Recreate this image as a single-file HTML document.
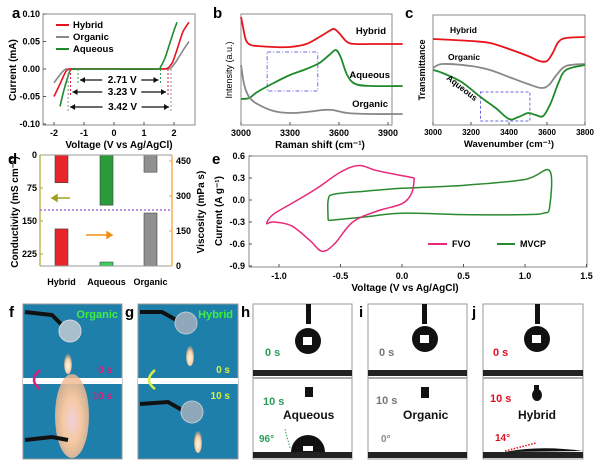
<!DOCTYPE html>
<html><head><meta charset="utf-8"><style>
html,body{margin:0;padding:0;background:#fff;}
svg{display:block;font-family:"Liberation Sans",Arial,sans-serif;font-weight:bold;}
</style></head><body>
<svg id="fig" width="600" height="470" viewBox="0 0 600 470" xmlns="http://www.w3.org/2000/svg">
<defs>
<radialGradient id="flame" cx="50%" cy="60%" r="60%"><stop offset="0" stop-color="#fff8e8"/><stop offset="0.6" stop-color="#f6d0a8"/><stop offset="1" stop-color="#e8a070" stop-opacity="0.3"/></radialGradient>
<radialGradient id="bigflame" cx="50%" cy="55%" r="55%"><stop offset="0" stop-color="#f0d0dc"/><stop offset="0.5" stop-color="#f5c8a0"/><stop offset="1" stop-color="#f0b890" stop-opacity="0.8"/></radialGradient>
</defs>
<text x="12" y="18" font-size="15">a</text>
<text x="213" y="18" font-size="15">b</text>
<text x="405" y="18" font-size="15">c</text>
<text x="8" y="164" font-size="15">d</text>
<text x="212" y="164" font-size="15">e</text>
<text x="9" y="317" font-size="15">f</text>
<text x="125" y="317" font-size="15">g</text>
<text x="241" y="317" font-size="15">h</text>
<text x="359" y="317" font-size="15">i</text>
<text x="472" y="317" font-size="15">j</text>

<g>
<rect x="23" y="304" width="99" height="155" fill="#1f7fab" stroke="#999"/>
<rect x="23" y="378" width="99" height="6" fill="#fff"/>
<path d="M25,312 L52,315 L66,329" stroke="#111" stroke-width="4" fill="none"/>
<circle cx="70" cy="331" r="11" fill="#a9bfcc" stroke="#cfd8de"/>
<ellipse cx="68" cy="364" rx="4" ry="10" fill="url(#flame)"/>
<ellipse cx="72" cy="416" rx="17" ry="42" fill="url(#bigflame)"/>
<path d="M25,440 L52,437 L68,440" stroke="#111" stroke-width="4" fill="none"/>
<text x="118" y="318" font-size="11" fill="#3ef03e" text-anchor="end">Organic</text>
<text x="112" y="373" font-size="10" fill="#d8207a" text-anchor="end">0 s</text>
<text x="112" y="399" font-size="10" fill="#d8207a" text-anchor="end">10 s</text>
<path d="M40,370 Q28,380 40,389" stroke="#d8207a" stroke-width="2.5" fill="none"/>
</g>
<g>
<rect x="138" y="304" width="100" height="155" fill="#1f7fab" stroke="#999"/>
<rect x="138" y="378" width="100" height="6" fill="#fff"/>
<path d="M140,312 L162,312 L178,321" stroke="#111" stroke-width="4" fill="none"/>
<circle cx="186" cy="323" r="11" fill="#8fa9ba" stroke="#b9c8d2"/>
<ellipse cx="190" cy="356" rx="4" ry="10" fill="url(#flame)"/>
<path d="M140,404 L168,402 L182,410" stroke="#111" stroke-width="4" fill="none"/>
<circle cx="192" cy="412" r="11" fill="#8fa9ba" stroke="#b9c8d2"/>
<ellipse cx="198" cy="442" rx="4" ry="11" fill="url(#flame)"/>
<text x="233" y="318" font-size="11" fill="#3ef03e" text-anchor="end">Hybrid</text>
<text x="230" y="373" font-size="10" fill="#d8f040" text-anchor="end">0 s</text>
<text x="230" y="399" font-size="10" fill="#d8f040" text-anchor="end">10 s</text>
<path d="M155,370 Q143,380 155,389" stroke="#d8f040" stroke-width="2.5" fill="none"/>
</g>
<g>
<rect x="253" y="304" width="99" height="155" fill="#fff" stroke="#999"/>
<rect x="253" y="370" width="99" height="6" fill="#222"/>
<rect x="253" y="452" width="99" height="6" fill="#222"/>
<rect x="253" y="377" width="99" height="2" fill="#aaa"/>
<rect x="306" y="304" width="5" height="20" fill="#111"/>
<circle cx="308" cy="341" r="13" fill="#111"/><rect x="303" y="337" width="9" height="8" fill="#fff"/>
<rect x="305" y="387" width="8" height="10" fill="#111"/>
<path d="M291,452 A17,17 0 0 1 325,452 Z" fill="#111"/><rect x="303" y="446" width="10" height="5" fill="#fff"/>
<text x="265" y="356" font-size="11" fill="#2a9d5a">0 s</text>
<text x="263" y="405" font-size="11" fill="#2a9d5a">10 s</text>
<text x="283" y="419" font-size="12" fill="#111">Aqueous</text>
<text x="259" y="442" font-size="10" fill="#2a9d5a">96°</text>
<line x1="285" y1="429" x2="290" y2="448" stroke="#2a9d5a" stroke-dasharray="1.5,1.5"/>
</g>
<g>
<rect x="368" y="304" width="99" height="155" fill="#fff" stroke="#999"/>
<rect x="368" y="370" width="99" height="6" fill="#222"/>
<rect x="368" y="452" width="99" height="6" fill="#222"/>
<rect x="368" y="377" width="99" height="2" fill="#aaa"/>
<rect x="422" y="304" width="5" height="20" fill="#111"/>
<circle cx="425" cy="339" r="13" fill="#111"/><rect x="420" y="335" width="9" height="8" fill="#fff"/>
<rect x="421" y="387" width="8" height="11" fill="#111"/>
<text x="379" y="356" font-size="11" fill="#777">0 s</text>
<text x="376" y="404" font-size="11" fill="#777">10 s</text>
<text x="403" y="419" font-size="12" fill="#111">Organic</text>
<text x="381" y="442" font-size="10" fill="#888">0°</text>
</g>
<g>
<rect x="483" y="304" width="100" height="155" fill="#fff" stroke="#999"/>
<rect x="483" y="370" width="100" height="6" fill="#222"/>
<rect x="483" y="452" width="100" height="6" fill="#222"/>
<rect x="483" y="377" width="100" height="2" fill="#aaa"/>
<rect x="535" y="304" width="5" height="20" fill="#111"/>
<circle cx="537" cy="339" r="13" fill="#111"/><rect x="532" y="335" width="9" height="8" fill="#fff"/>
<ellipse cx="537" cy="395" rx="5" ry="6" fill="#111"/><rect x="534" y="385" width="5" height="6" fill="#111"/>
<text x="493" y="356" font-size="11" fill="#e01020">0 s</text>
<text x="490" y="402" font-size="11" fill="#e01020">10 s</text>
<text x="518" y="419" font-size="12" fill="#111">Hybrid</text>
<text x="495" y="441" font-size="10" fill="#e01020">14°</text>
<line x1="505" y1="451" x2="536" y2="443" stroke="#e01020" stroke-dasharray="1.5,1.5" stroke-width="1.5"/>
<path d="M505,452 Q540,445 583,451" fill="#111"/>
</g>
</svg>
<script>
const NS='http://www.w3.org/2000/svg';
const svg=document.getElementById('fig');
function mk(tag,attrs,parent){const el=document.createElementNS(NS,tag);for(const k in attrs)el.setAttribute(k,attrs[k]);(parent||svg).appendChild(el);return el;}
function named(el,n){


return el;}
function txt(x,y,s,size,extra){const t=mk('text',Object.assign({x:x,y:y,'font-size':size||9},extra||{}));t.textContent=s;return t;}
function smooth(pts,k){k=k||6;let d='M'+pts[0][0]+','+pts[0][1];for(let i=0;i<pts.length-1;i++){const p0=pts[i-1]||pts[i],p1=pts[i],p2=pts[i+1],p3=pts[i+2]||p2;const c1=[p1[0]+(p2[0]-p0[0])/k,p1[1]+(p2[1]-p0[1])/k],c2=[p2[0]-(p3[0]-p1[0])/k,p2[1]-(p3[1]-p1[1])/k];d+=' C'+c1[0]+','+c1[1]+' '+c2[0]+','+c2[1]+' '+p2[0]+','+p2[1];}return d;}

// ---------- Panel a data ----------
const aHybridV=[-2.0,-1.85,-1.7,-1.6,-1.5,-1.3,0,1.6,1.8,1.95,2.1,2.3,2.5];
const aHybridI=[-0.05,-0.033,-0.015,-0.004,0,0,0,0,0.002,0.012,0.035,0.068,0.085];
const aOrganicV=[-2.0,-1.85,-1.7,-1.6,-1.5,0,1.7,1.9,2.05,2.2,2.35,2.5];
const aOrganicI=[-0.025,-0.014,-0.004,0,0,0,0,0.002,0.012,0.025,0.038,0.05];
const aAqueousV=[-1.8,-1.7,-1.6,-1.5,-1.45,-1.35,-1.2,0,1.45,1.55,1.7,1.85,2.0,2.1];
const aAqueousI=[-0.068,-0.045,-0.025,-0.008,-0.002,0,0,0,0,0.004,0.02,0.045,0.07,0.085];
const aXTicks=[-2,-1,0,1,2];
const aYTicks=[0.10,0.05,0.00,-0.05,-0.10];
const aWindows=[['2.71 V',-1.2,1.55],['3.23 V',-1.45,1.8],['3.42 V',-1.53,1.9]];
const xa=v=>114+v*30, ya=c=>69-c*550;
(function(){
 named(mk('rect',{x:43,y:14,width:152,height:111,fill:'none',stroke:'#888'}),'panel-a-plot-area');
 aXTicks.forEach(v=>{mk('line',{x1:xa(v),y1:125,x2:xa(v),y2:122,stroke:'#555'});named(txt(xa(v),136,String(v),9,{'text-anchor':'middle'}),'x-tick-a');});
 aYTicks.forEach(v=>{mk('line',{x1:43,y1:ya(v),x2:46,y2:ya(v),stroke:'#555'});named(txt(40,ya(v)+3,v.toFixed(2),9,{'text-anchor':'end'}),'y-tick-a');});
 named(txt(119,148,'Voltage (V vs Ag/AgCl)',10,{'text-anchor':'middle'}),'x-axis-title-a');
 named(txt(0,0,'Current (mA)',10,{'text-anchor':'middle',transform:'translate(16,70) rotate(-90)'}),'y-axis-title-a');
 const cols={h:'#e8141c',o:'#888',a:'#1e8a2a'};
 const dcol=['#3a9a50','#e0203a','#909090'];
 [[aOrganicV,aOrganicI,cols.o,'series-organic'],[aHybridV,aHybridI,cols.h,'series-hybrid'],[aAqueousV,aAqueousI,cols.a,'series-aqueous']].forEach(s=>{
  named(mk('path',{d:smooth(s[0].map((v,i)=>[xa(v),ya(s[1][i])]),10),fill:'none',stroke:s[2],'stroke-width':1.6}),s[3]);
 });
 const arrowY=[80,92,107];
 aWindows.forEach((w,i)=>{
  [w[1],w[2]].forEach(v=>mk('line',{x1:xa(v),y1:ya(0),x2:xa(v),y2:arrowY[i]+4,stroke:dcol[i],'stroke-dasharray':'2,2'}));
  const x1=xa(w[1])+2,x2=xa(w[2])-2,xm=(x1+x2)/2;
  named(txt(xm+3,arrowY[i]+3,w[0],10,{'text-anchor':'middle'}),'window-label');
  mk('line',{x1:x1,y1:arrowY[i],x2:xm-17,y2:arrowY[i],stroke:'#111','stroke-width':1.3});
  mk('line',{x1:xm+22,y1:arrowY[i],x2:x2,y2:arrowY[i],stroke:'#111','stroke-width':1.3});
  mk('path',{d:`M${x1},${arrowY[i]} l5,-3 v6 z M${x2},${arrowY[i]} l-5,-3 v6 z`,fill:'#111'});
 });
 [['Hybrid',cols.h,25],['Organic',cols.o,37],['Aqueous',cols.a,49]].forEach(l=>{
  named(mk('line',{x1:56,y1:l[2],x2:69,y2:l[2],stroke:l[1],'stroke-width':2}),'legend-swatch');
  named(txt(73,l[2]+3,l[0],9.5),'legend-entry');
 });
})();

// ---------- Panel b data ----------
const bHybridX=[3000,3010,3030,3060,3100,3200,3300,3400,3480,3540,3570,3600,3650,3700,3800,3990];
const bHybridI=[108,100,85,80,79,78,78,81,88,94,96,92,83,81,81,81];
const bAqueousX=[3000,3050,3100,3200,3300,3400,3480,3540,3580,3610,3650,3700,3800,3990];
const bAqueousI=[26,27,33,42,50,56,62,70,75,68,50,41,39,39];
const bOrganicX=[3000,3020,3050,3100,3200,3300,3400,3500,3560,3650,3800,3990];
const bOrganicI=[60,40,28,21,14,12,13,15,15,12,11,11];
const bXTicks=[3000,3300,3600,3900];
const xb=w=>241+(w-3000)*49/300, yb=I=>125-I;
(function(){
 named(mk('rect',{x:241,y:14,width:151,height:111,fill:'none',stroke:'#888'}),'panel-b-plot-area');
 bXTicks.forEach(v=>{mk('line',{x1:xb(v),y1:125,x2:xb(v),y2:122,stroke:'#555'});named(txt(xb(v),136,String(v),9,{'text-anchor':'middle'}),'x-tick-b');});
 named(txt(320,148,'Raman shift (cm\u207B\u00B9)',10,{'text-anchor':'middle'}),'x-axis-title-b');
 named(txt(0,0,'Intensity (a.u.)',9,{'text-anchor':'middle',transform:'translate(232,70) rotate(-90)','font-weight':'normal'}),'y-axis-title-b');
 named(mk('rect',{x:xb(3160),y:52,width:xb(3470)-xb(3160),height:39,fill:'none',stroke:'#6a6ae0','stroke-dasharray':'4,2,1,2'}),'highlight-box-b');
 [[bHybridX,bHybridI,'#e8141c','series-hybrid'],[bAqueousX,bAqueousI,'#1e8a2a','series-aqueous'],[bOrganicX,bOrganicI,'#888','series-organic']].forEach(s=>{
  named(mk('path',{d:smooth(s[0].map((v,i)=>[xb(v),yb(s[1][i])])),fill:'none',stroke:s[2],'stroke-width':1.8}),s[3]);
 });
 named(txt(386,34,'Hybrid',9.5,{'text-anchor':'end'}),'label-hybrid');
 named(txt(390,78,'Aqueous',9.5,{'text-anchor':'end'}),'label-aqueous');
 named(txt(388,107,'Organic',9.5,{'text-anchor':'end'}),'label-organic');
})();

// ---------- Panel c data ----------
const cHybridX=[3000,3200,3300,3400,3500,3560,3600,3630,3660,3700,3800];
const cHybridT=[86,84,82,76,69,64,64,72,83,87,88];
const cOrganicX=[3000,3050,3200,3300,3400,3500,3570,3610,3650,3700,3800];
const cOrganicT=[57,61,59,55,48,41,37,40,50,59,61];
const cAqueousX=[3000,3050,3150,3250,3330,3400,3450,3500,3540,3580,3620,3660,3700,3800];
const cAqueousT=[55,52,43,28,17,6,8,12,10,9,22,42,55,60];
const cXTicks=[3000,3200,3400,3600,3800];
const xc=w=>433+(w-3000)*0.19, yc=T=>125-T;
(function(){
 named(mk('rect',{x:433,y:15,width:152,height:110,fill:'none',stroke:'#888'}),'panel-c-plot-area');
 cXTicks.forEach(v=>{mk('line',{x1:xc(v),y1:125,x2:xc(v),y2:122,stroke:'#555'});named(txt(xc(v),135,String(v),8,{'text-anchor':'middle'}),'x-tick-c');});
 named(txt(509,147,'Wavenumber (cm\u207B\u00B9)',9.5,{'text-anchor':'middle'}),'x-axis-title-c');
 named(txt(0,0,'Transmittance',9,{'text-anchor':'middle',transform:'translate(425,70) rotate(-90)'}),'y-axis-title-c');
 named(mk('rect',{x:xc(3250),y:92,width:xc(3510)-xc(3250),height:29,fill:'none',stroke:'#6a6ae0','stroke-dasharray':'3,2'}),'highlight-box-c');
 [[cHybridX,cHybridT,'#e8141c','series-hybrid'],[cOrganicX,cOrganicT,'#888','series-organic'],[cAqueousX,cAqueousT,'#1e8a2a','series-aqueous']].forEach(s=>{
  named(mk('path',{d:smooth(s[0].map((v,i)=>[xc(v),yc(s[1][i])])),fill:'none',stroke:s[2],'stroke-width':1.8}),s[3]);
 });
 named(txt(450,33,'Hybrid',8.5),'label-hybrid');
 named(txt(448,60,'Organic',8.5),'label-organic');
 named(txt(0,0,'Aqueous',8.5,{transform:'translate(446,79) rotate(38)'}),'label-aqueous');
})();

// ---------- Panel d data ----------
const dCategories=['Hybrid','Aqueous','Organic'];
const dConductivity=[63,114,39];
const dViscosity=[159,17,227];
const dLeftTicks=[0,75,150,225];
const dRightTicks=[450,300,150,0];
const yCond=c=>155+c*0.44, yVis=v=>266-v*0.2333;
(function(){
 const bx=[55,100,144], bw=13;
 const fills=['#e8262a','#2a9a3a','#909090'];
 dCategories.forEach((c,i)=>{
  named(mk('rect',{x:bx[i],y:155,width:bw,height:yCond(dConductivity[i])-155,fill:fills[i],stroke:'#444','stroke-width':0.6}),'bar-conductivity-'+c.toLowerCase());
  named(mk('rect',{x:bx[i],y:yVis(dViscosity[i]),width:bw,height:266-yVis(dViscosity[i]),fill:i==1?'#3ad05a':fills[i],stroke:'#444','stroke-width':0.6}),'bar-viscosity-'+c.toLowerCase());
  named(txt(bx[i]+bw/2,285,c,9,{'text-anchor':'middle'}),'x-category-d');
 });
 named(mk('line',{x1:40,y1:155,x2:40,y2:266,stroke:'#a8a830','stroke-width':1.2}),'left-axis-d');
 named(mk('line',{x1:172,y1:155,x2:172,y2:266,stroke:'#f0a030','stroke-width':1.2}),'right-axis-d');
 mk('line',{x1:40,y1:155,x2:172,y2:155,stroke:'#999'});
 mk('line',{x1:40,y1:266,x2:172,y2:266,stroke:'#999'});
 dLeftTicks.forEach(v=>{mk('line',{x1:40,y1:yCond(v),x2:43,y2:yCond(v),stroke:'#a8a830'});named(txt(37,yCond(v)+3,String(v),9,{'text-anchor':'end'}),'y-tick-left-d');});
 dRightTicks.forEach(v=>{mk('line',{x1:169,y1:yVis(v),x2:172,y2:yVis(v),stroke:'#f0a030'});named(txt(176,yVis(v)+3,String(v),9),'y-tick-right-d');});
 named(mk('line',{x1:40,y1:210,x2:172,y2:210,stroke:'#9a50e0','stroke-dasharray':'2,2','stroke-width':1.3}),'divider-d');
 named(mk('path',{d:'M52,198 h18 M52,198 l5,-3 v6 z',stroke:'#a0a020',fill:'#a0a020','stroke-width':1.5}),'arrow-left-d');
 named(mk('path',{d:'M86,235 h26 M112,235 l-5,-3 v6 z',stroke:'#f0901a',fill:'#f0901a','stroke-width':1.5}),'arrow-right-d');
 named(txt(0,0,'Conductivity (mS cm\u207B\u00B9)',10,{'text-anchor':'middle',transform:'translate(18,212) rotate(-90)'}),'y-axis-title-left-d');
 named(txt(0,0,'Viscosity (mPa s)',10,{'text-anchor':'middle',transform:'translate(204,212) rotate(-90)'}),'y-axis-title-right-d');
})();

// ---------- Panel e data ----------
const eFvoV=[0.1,-0.2,-0.35,-0.5,-0.7,-0.9,-1.05,-1.1,-1.05,-0.9,-0.75,-0.65,-0.55,-0.4,-0.2,0,0.08,0.1];
const eFvoI=[0.3,0.4,0.47,0.38,0.15,-0.05,-0.2,-0.32,-0.3,-0.35,-0.55,-0.7,-0.6,-0.3,-0.15,-0.05,0.1,0.3];
const eMvcpV=[-0.6,-0.6,-0.55,-0.3,0,0.5,1.0,1.2,1.2,1.15,1.0,0.5,0,-0.3,-0.6];
const eMvcpI=[-0.28,0.0,0.08,0.12,0.16,0.2,0.28,0.4,-0.1,-0.18,-0.2,-0.2,-0.18,-0.23,-0.28];
const eXTicks=[-1.0,-0.5,0.0,0.5,1.0,1.5];
const eYTicks=[0.6,0.3,0.0,-0.3,-0.6,-0.9];
const xe=v=>402+v*123, ye=i=>200-i*73.3;
(function(){
 named(mk('rect',{x:249,y:156,width:338,height:111,fill:'none',stroke:'#888'}),'panel-e-plot-area');
 eXTicks.forEach(v=>{mk('line',{x1:xe(v),y1:267,x2:xe(v),y2:264,stroke:'#555'});named(txt(xe(v),279,v.toFixed(1),9,{'text-anchor':'middle'}),'x-tick-e');});
 eYTicks.forEach(v=>{mk('line',{x1:249,y1:ye(v),x2:252,y2:ye(v),stroke:'#555'});named(txt(245,ye(v)+3,v.toFixed(1),9,{'text-anchor':'end'}),'y-tick-e');});
 named(txt(405,291,'Voltage (V vs Ag/AgCl)',10,{'text-anchor':'middle'}),'x-axis-title-e');
 named(txt(0,0,'Current (A g\u207B\u00B9)',10,{'text-anchor':'middle',transform:'translate(222,211) rotate(-90)'}),'y-axis-title-e');
 named(mk('path',{d:smooth(eMvcpV.map((v,i)=>[xe(v),ye(eMvcpI[i])])),fill:'none',stroke:'#2a8a30','stroke-width':1.5}),'series-mvcp');
 named(mk('path',{d:smooth(eFvoV.map((v,i)=>[xe(v),ye(eFvoI[i])])),fill:'none',stroke:'#e8287a','stroke-width':1.5}),'series-fvo');
 named(mk('line',{x1:428,y1:244,x2:447,y2:244,stroke:'#e8287a','stroke-width':2}),'legend-swatch-fvo');
 named(txt(452,247,'FVO',9),'legend-entry-fvo');
 named(mk('line',{x1:497,y1:244,x2:515,y2:244,stroke:'#2a8a30','stroke-width':2}),'legend-swatch-mvcp');
 named(txt(520,247,'MVCP',9),'legend-entry-mvcp');
})();
</script>
</body></html>
